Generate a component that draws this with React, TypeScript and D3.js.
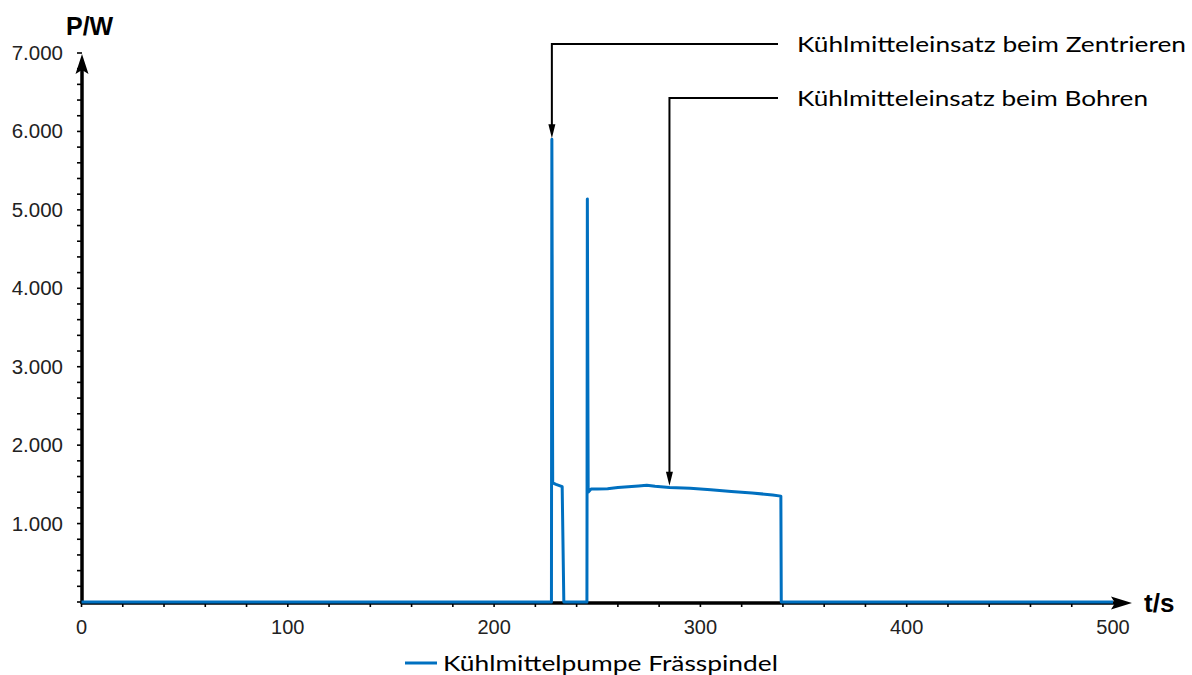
import React, { useEffect, useRef } from 'react';
import * as d3 from 'd3';

// t in seconds, P in watts
const timeS = [0, 227.8, 228, 228.4, 230, 232, 233, 233.8, 245, 245.2, 245.6, 247, 250, 255, 260, 265, 270, 274, 278, 285, 295, 305, 315, 325, 335, 339, 339.2, 500];
const powerW = [0, 0, 5900, 1520, 1500, 1480, 1470, 0, 0, 5140, 1400, 1440, 1440, 1445, 1460, 1470, 1480, 1490, 1475, 1460, 1450, 1430, 1410, 1390, 1365, 1350, 0, 0];

const xTickValues = [0, 100, 200, 300, 400, 500];
const yTickValues = [1000, 2000, 3000, 4000, 5000, 6000, 7000];
const yTickLabels = ['1.000', '2.000', '3.000', '4.000', '5.000', '6.000', '7.000'];

const seriesName = 'Kühlmittelpumpe Frässpindel';
const yTitle = 'P/W';
const xTitle = 't/s';
const notes = [
  { text: 'Kühlmitteleinsatz beim Zentrieren', t: 228, p: 5900, ty: 44, len: 389 },
  { text: 'Kühlmitteleinsatz beim Bohren', t: 285, p: 1470, ty: 98, len: 351 },
];

const BLUE = '#0070c0';

export default function App() {
  const ref = useRef<SVGSVGElement>(null);

  useEffect(() => {
    const svg = d3.select(ref.current);
    svg.selectAll('*').remove();

    const x = d3.scaleLinear().domain([0, 500]).range([81.5, 1113]);
    const y = d3.scaleLinear().domain([0, 7000]).range([602, 53]);

    const font = '"Liberation Sans", Arial, sans-serif';
    const noteFont = 'Lato, "Open Sans", sans-serif';

    // minor ticks
    const yMinor = d3.range(0, 7001, 200);
    svg.append('g').selectAll('line').data(yMinor).enter().append('line')
      .attr('x1', 77).attr('x2', 82)
      .attr('y1', (d) => y(d)).attr('y2', (d) => y(d))
      .attr('stroke', '#000').attr('stroke-width', 1.6);
    const xMinor = d3.range(0, 481, 20);
    svg.append('g').selectAll('line').data(xMinor).enter().append('line')
      .attr('x1', (d) => x(d)).attr('x2', (d) => x(d))
      .attr('y1', 602).attr('y2', 607)
      .attr('stroke', '#000').attr('stroke-width', 1.6);

    // axes with arrows
    svg.append('line')
      .attr('x1', x(0)).attr('y1', 603).attr('x2', 1115).attr('y2', 603)
      .attr('stroke', '#000').attr('stroke-width', 3.5);
    svg.append('path').attr('d', 'M1132,603 L1111,596.5 L1115,603 L1111,609.5 Z').attr('fill', '#000');
    svg.append('line')
      .attr('x1', 82).attr('y1', 604).attr('x2', 82).attr('y2', 70)
      .attr('stroke', '#000').attr('stroke-width', 3.5);
    svg.append('path').attr('d', 'M82,54 L75.5,74 L82,70 L88.5,74 Z').attr('fill', '#000');

    // tick labels
    svg.append('g').selectAll('text').data(yTickValues).enter().append('text')
      .attr('x', 63).attr('y', (d) => y(d) + 7)
      .attr('text-anchor', 'end')
      .attr('font-family', font).attr('font-size', 20.5).attr('fill', '#222')
      .text((d, i) => yTickLabels[i]);
    svg.append('g').selectAll('text').data(xTickValues).enter().append('text')
      .attr('x', (d) => x(d)).attr('y', 634)
      .attr('text-anchor', 'middle')
      .attr('font-family', font).attr('font-size', 20).attr('fill', '#222')
      .text((d) => d);

    svg.append('text').attr('x', 66).attr('y', 35)
      .attr('font-family', font).attr('font-size', 25).attr('font-weight', 'bold')
      .text(yTitle);
    svg.append('text').attr('x', 1144).attr('y', 612)
      .attr('font-family', font).attr('font-size', 26).attr('font-weight', 'bold')
      .text(xTitle);

    // series
    const pts = timeS.map((t, i) => [t, powerW[i]] as [number, number]);
    const line = d3.line<[number, number]>().x((d) => x(d[0])).y((d) => y(d[1]));
    svg.append('path').datum(pts)
      .attr('d', line)
      .attr('fill', 'none').attr('stroke', BLUE).attr('stroke-width', 3)
      .attr('stroke-linejoin', 'round');

    // annotations
    notes.forEach((n) => {
      const px = x(n.t);
      const tipY = y(n.p) - 1;
      svg.append('path')
        .attr('d', `M778,${n.ty} L${px},${n.ty} L${px},${tipY - 10}`)
        .attr('fill', 'none').attr('stroke', '#000').attr('stroke-width', 2);
      svg.append('path')
        .attr('d', `M${px},${tipY} L${px - 3.5},${tipY - 14} L${px + 3.5},${tipY - 14} Z`)
        .attr('fill', '#000');
      svg.append('text').attr('x', 797).attr('y', n.ty + 8)
        .attr('font-family', noteFont).attr('font-size', 22).attr('fill', '#000')
        .attr('textLength', n.len).attr('lengthAdjust', 'spacingAndGlyphs')
        .text(n.text);
    });

    // legend
    svg.append('line').attr('x1', 405).attr('x2', 437).attr('y1', 663).attr('y2', 663)
      .attr('stroke', BLUE).attr('stroke-width', 3);
    svg.append('text').attr('x', 443).attr('y', 671)
      .attr('font-family', noteFont).attr('font-size', 22).attr('fill', '#000')
      .attr('textLength', 335).attr('lengthAdjust', 'spacingAndGlyphs')
      .text(seriesName);
  }, []);

  return (
    <svg ref={ref} width={1192} height={675}
      style={{ position: 'absolute', left: 0, top: 0, background: '#fff' }} />
  );
}
